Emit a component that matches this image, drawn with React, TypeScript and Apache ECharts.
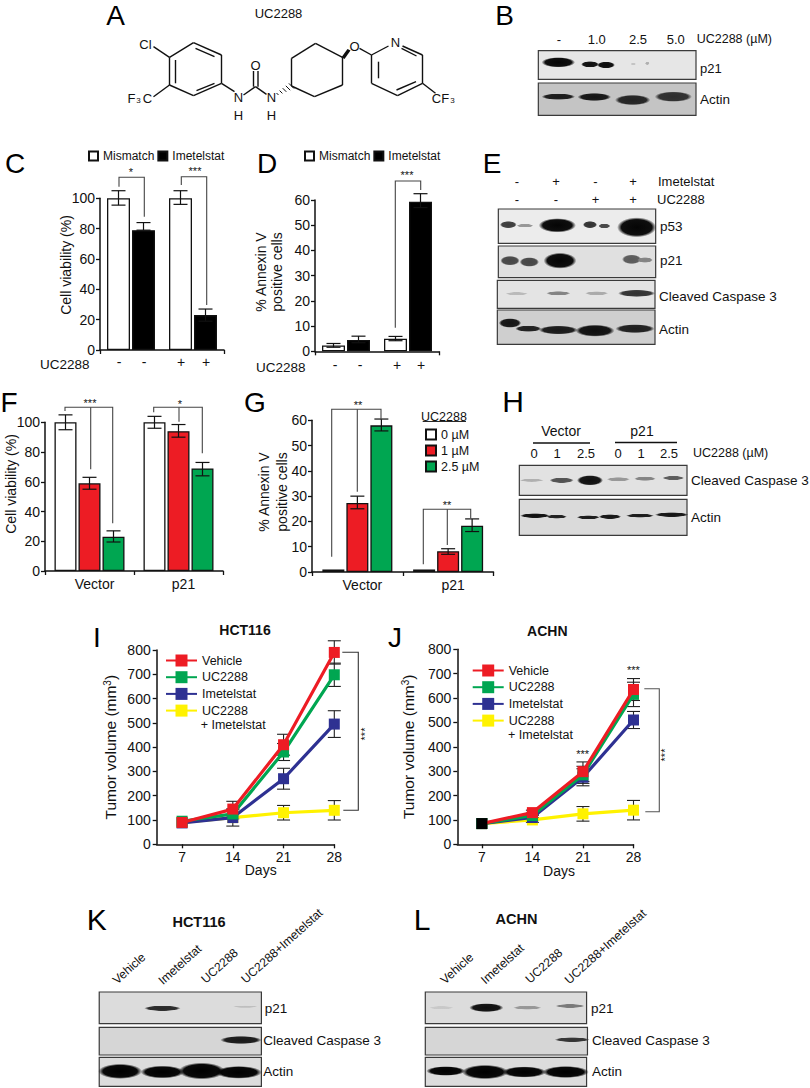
import React, { useEffect, useRef } from "react";
import * as echarts from "echarts";

// ---------- data ----------
const conditionPairs = ["UC2288 -", "UC2288 +"];
const mismatchName = "Mismatch";
const imetelstatName = "Imetelstat";

const cMismatch = [100, 100];
const cImetelstat = [79, 23];
const cMismatchLow = [95.5, 96];
const cMismatchHigh = [105, 105];
const cImetelstatLow = [79, 19];
const cImetelstatHigh = [84, 27];

const dMismatch = [2.3, 5];
const dImetelstat = [4.5, 59.3];
const dMismatchLow = [1.6, 4.2];
const dMismatchHigh = [3.1, 5.9];
const dImetelstatLow = [3.4, 57];
const dImetelstatHigh = [6, 62.5];

const groups = ["Vector", "p21"];
const doseNames = ["0 µM", "1 µM", "2.5 µM"];
const fDose0 = [100, 100];
const fDose1 = [59, 94];
const fDose25 = [23, 69];
const fDose0Low = [95, 96];
const fDose0High = [105, 104];
const fDose1Low = [55, 90];
const fDose1High = [63, 98.5];
const fDose25Low = [19.5, 64];
const fDose25High = [27, 73];

const gDose0 = [1, 1];
const gDose1 = [27.3, 8.2];
const gDose25 = [58, 18.3];
const gDose1Low = [25, 7];
const gDose1High = [30, 9.2];
const gDose25Low = [55.8, 16];
const gDose25High = [60.5, 21];

const days = [7, 14, 21, 28];
const lineNames = ["Vehicle", "UC2288", "Imetelstat ", "UC2288 "];

const iVehicle = [90, 145, 410, 790];
const iUC2288 = [95, 125, 380, 698];
const iImetelstat = [88, 110, 270, 495];
const iCombo = [90, 110, 130, 140];
const iVehicleErr = [0, 32, 43, 48];
const iUC2288Err = [0, 20, 35, 48];
const iImetelstatErr = [0, 35, 43, 55];
const iComboErr = [0, 0, 30, 40];

const jVehicle = [85, 130, 298, 635];
const jUC2288 = [85, 118, 285, 615];
const jImetelstat = [85, 110, 275, 510];
const jCombo = [85, 100, 125, 140];
const jVehicleErr = [0, 10, 40, 45];
const jUC2288Err = [0, 10, 35, 50];
const jImetelstatErr = [0, 10, 35, 35];
const jComboErr = [0, 10, 30, 40];

// ---------- styles ----------
const FONT = "Liberation Sans, Arial, sans-serif";
const RED = "#ED1C24";
const GREEN = "#00A651";
const BLUE = "#2E3192";
const YELLOW = "#FFF200";
const lineColors = [RED, GREEN, BLUE, YELLOW];

// ---------- cartesian helpers ----------
const axisLine = { show: true, onZero: false, lineStyle: { color: "#111", width: 1.5 } };
const axisTick = { show: true, length: 4, lineStyle: { color: "#111", width: 1.3 } };

function yAxis(gridIndex: number, max: number, interval: number, margin: number, extra: any = {}) {
  return {
    type: "value", gridIndex, min: 0, max, interval,
    axisLine, axisTick, splitLine: { show: false },
    axisLabel: { fontFamily: FONT, fontSize: 14, color: "#111", margin },
    ...extra,
  };
}

function catAxis(gridIndex: number, data: string[], showLabels: boolean) {
  return {
    type: "category", gridIndex, data,
    axisLine, axisTick: { ...axisTick, alignWithLabel: false },
    axisLabel: showLabels
      ? { show: true, fontFamily: FONT, fontSize: 14, color: "#111", margin: 6, padding: [0, 0, 0, 10] }
      : { show: false },
  };
}

function barGroup(
  grid: number, names: string[], values: number[][], lows: (number[] | null)[], highs: (number[] | null)[],
  fills: string[], barW: number, gap: number,
) {
  const out: any[] = [];
  values.forEach((v, s) => {
    out.push({
      type: "bar", name: names[s], xAxisIndex: grid, yAxisIndex: grid, data: v,
      barWidth: barW, barGap: `${(gap / barW) * 100}%`,
      itemStyle: { color: fills[s], borderColor: "#111", borderWidth: 1.3 },
      z: 2,
    });
  });
  values.forEach((v, s) => {
    const low = lows[s];
    const high = highs[s];
    if (!low || !high) return;
    const off = (s - (values.length - 1) / 2) * (barW + gap);
    out.push({
      type: "custom", xAxisIndex: grid, yAxisIndex: grid, z: 3, silent: true,
      encode: { x: 0, y: [1, 2] },
      data: v.map((_, i) => [i, low[i], high[i]]),
      renderItem: (_: any, api: any) => {
        const a = api.coord([api.value(0), api.value(1)]);
        const b = api.coord([api.value(0), api.value(2)]);
        const x = a[0] + off;
        const st = { stroke: "#111", lineWidth: 1.2, fill: null };
        const L = (x1: number, y1: number, x2: number, y2: number) => ({ type: "line", shape: { x1, y1, x2, y2 }, style: st });
        return {
          type: "group",
          children: [L(x, a[1], x, b[1]), L(x - 7, a[1], x + 7, a[1]), L(x - 7, b[1], x + 7, b[1])],
        };
      },
    });
  });
  return out;
}

function lineGroup(grid: number, series: number[][], errs: number[][], blackFirst: boolean) {
  const out: any[] = [];
  const order = [3, 2, 1, 0];
  errs.forEach((e, idx) => {
    out.push({
      type: "custom", xAxisIndex: grid, yAxisIndex: grid, z: 2, silent: true,
      encode: { x: 0, y: 1 },
      data: days.map((d, i) => [d, series[idx][i], e[i]]),
      renderItem: (_: any, api: any) => {
        const d = api.value(0), m = api.value(1), r = api.value(2);
        if (!r) return null;
        const a = api.coord([d, m - r]);
        const b = api.coord([d, m + r]);
        const st = { stroke: "#222", lineWidth: 1.1, fill: null };
        const L = (x1: number, y1: number, x2: number, y2: number) => ({ type: "line", shape: { x1, y1, x2, y2 }, style: st });
        return { type: "group", children: [L(a[0], a[1], b[0], b[1]), L(a[0] - 6.5, a[1], a[0] + 6.5, a[1]), L(b[0] - 6.5, b[1], b[0] + 6.5, b[1])] };
      },
    });
  });
  order.forEach((s, k) => {
    out.push({
      type: "line", name: lineNames[s], xAxisIndex: grid, yAxisIndex: grid, z: 5 + k,
      data: days.map((d, i) =>
        blackFirst && s === 0 && i === 0
          ? { value: [d, series[s][i]], itemStyle: { color: "#000" } }
          : [d, series[s][i]],
      ),
      symbol: "rect", symbolSize: 11, showSymbol: true,
      lineStyle: { color: lineColors[s], width: 3.2 },
      itemStyle: { color: lineColors[s] },
    });
  });
  return out;
}

function dayAxis(gridIndex: number, min: number) {
  return {
    type: "value", gridIndex, min, max: 28,
    axisLine, axisTick: { ...axisTick, customValues: days },
    splitLine: { show: false },
    axisLabel: { customValues: days, fontFamily: FONT, fontSize: 14, color: "#111", margin: 6 },
  };
}

function tumorName(gap: number) {
  return {
    name: "{a|Tumor volume (mm}{b|3}{a|)}",
    nameLocation: "middle",
    nameGap: gap,
    nameTextStyle: {
      rich: {
        a: { fontFamily: FONT, fontSize: 15.5, color: "#111" },
        b: { fontFamily: FONT, fontSize: 10, color: "#111", verticalAlign: "bottom", padding: [0, 0, 6, 0] },
      },
    },
  };
}

// ---------- graphic helpers ----------
const T = (text: string, x: number, y: number, size = 14, o: any = {}) => ({
  type: "text", x, y, rotation: o.rotation ?? 0, silent: true, z: 20,
  style: {
    text, x: 0, y: 0, fill: o.fill ?? "#111",
    font: `${o.weight ?? "normal"} ${size}px ${FONT}`,
    textAlign: o.align ?? "center", textVerticalAlign: "middle",
  },
});
const panelLetter = (text: string, x: number, y: number, size = 28) => T(text, x, y, size, { fill: "#000" });

const P = (pts: number[][], stroke = "#444", lineWidth = 1.1) => ({
  type: "polyline", silent: true, z: 15, shape: { points: pts }, style: { stroke, lineWidth, fill: null },
});
const B = (x1: number, y1: number, x2: number, y2: number, w = 1.4) => ({
  type: "line", silent: true, z: 15, shape: { x1, y1, x2, y2 }, style: { stroke: "#111", lineWidth: w },
});

type Band = [number, number, number, number, number];
type Panel = { x: number; y: number; w: number; h: number; bg: string; bands: Band[] };
function blot(ox: number, oy: number, sx: number, sy: number, panels: Panel[]) {
  const out: any[] = [];
  panels.forEach((p) => {
    out.push({
      type: "rect", silent: true, z: 10,
      shape: { x: ox + p.x / sx, y: oy + p.y / sy, width: p.w / sx, height: p.h / sy },
      style: { fill: p.bg, stroke: "#3a3a3a", lineWidth: 1.2 },
    });
    p.bands.forEach(([cx, cy, w, h, g]) => {
      const c = (a: number) => `rgba(${g},${g},${g},${a})`;
      out.push({
        type: "ellipse", silent: true, z: 11,
        shape: { cx: ox + cx / sx, cy: oy + cy / sy, rx: (w / sx) * 0.56, ry: (h / sy) * 0.6 },
        style: {
          fill: new echarts.graphic.RadialGradient(0.5, 0.5, 0.5, [
            { offset: 0, color: c(1) },
            { offset: 0.78, color: c(0.96) },
            { offset: 1, color: c(0) },
          ]),
        },
      });
    });
  });
  return out;
}

function chemistry() {
  const e: any[] = [];
  const ring = (pts: number[][]) => pts.forEach((a, i) => {
    const b = pts[(i + 1) % pts.length];
    e.push(B(a[0], a[1], b[0], b[1]));
  });
  ring([[197, 42.7], [225, 55], [225, 83.3], [197, 95.7], [173, 85], [173, 57.3]]);
  e.push(B(199, 48.3, 218, 56.7), B(218, 83.3, 200, 90.7), B(179, 60, 179, 83.3));
  e.push(B(173, 57.3, 157, 46.7), B(173, 85, 157, 96.7), B(225, 83.3, 238, 91.7));
  e.push(B(247, 95, 259, 86.7), B(259, 86.7, 270, 94.3));
  e.push(B(257, 86.7, 257, 71), B(261.5, 86.7, 261.5, 71));
  ring([[295, 86], [318, 96.7], [346, 85], [346, 57.3], [319, 43.3], [295, 58.3]]);
  for (let i = 0; i < 5; i++) {
    const t = i / 4;
    const x = 295 - t * 14, y = 86 + t * 8, r = 2.6 - t * 1.6;
    e.push(B(x - r, y - r, x + r, y + r, 1));
  }
  e.push({
    type: "polygon", silent: true, z: 15,
    shape: { points: [[345, 57.3], [348, 59], [354, 50.5], [351, 49]] },
    style: { fill: "#111" },
  });
  e.push(B(363, 48.3, 375, 55));
  e.push(B(375, 55, 392, 46), B(406, 46, 426, 55), B(426, 55, 426, 83.3), B(426, 83.3, 401, 95.7), B(401, 95.7, 375, 83.3), B(375, 83.3, 375, 55));
  e.push(B(405, 48.3, 420, 56), B(382, 61.7, 382, 78.3), B(400, 90, 419.5, 81.7), B(426, 83.3, 439, 93.3));
  const labels: [string, number, number][] = [
    ["Cl", 149, 44], ["N", 242, 97.7], ["H", 242, 115.7], ["O", 259, 65.7], ["N", 275, 97.7], ["H", 275, 115.7], ["O", 358, 46], ["N", 399, 42.7],
  ];
  labels.forEach(([t, x, y]) => e.push(T(t, x, y, 13)));
  e.push(
    T("F", 135, 98, 13), T("3", 142, 100, 8), T("C", 151, 98, 13),
    T("CF", 444, 98, 13), T("3", 456, 100, 8),
    T("UC2288", 282, 13, 13),
  );
  return { type: "group", x: -3.5, y: 0, children: e };
}

function buildGraphics() {
  const g: any[] = [];
  // panel letters
  g.push(
    panelLetter("A", 115.5, 15), panelLetter("B", 504.5, 15),
    panelLetter("C", 15, 163), panelLetter("D", 267, 163), panelLetter("E", 492, 163),
    panelLetter("F", 9, 402), panelLetter("G", 255, 402), panelLetter("H", 513, 401, 30),
    panelLetter("I", 97, 637), panelLetter("J", 395, 637),
    panelLetter("K", 96.7, 919, 30), panelLetter("L", 422, 919, 30),
  );
  g.push(chemistry());

  // B
  g.push(...blot(530, 0, 3, 3, [
    { x: 25, y: 152, w: 473, h: 86, bg: "#e6e6e6", bands: [[85, 187, 90, 26, 5], [180, 193, 48, 16, 15], [228, 195, 48, 17, 10], [310, 192, 15, 5, 195], [352, 190, 12, 8, 175]] },
    { x: 25, y: 249, w: 473, h: 97, bg: "#c4c4c4", bands: [[85, 290, 90, 16, 25], [193, 291, 90, 20, 20], [308, 300, 95, 26, 35], [430, 290, 100, 26, 45]] },
  ]));
  g.push(T("-", 559, 39, 13), T("1.0", 596.7, 39, 13), T("2.5", 638, 39, 13), T("5.0", 675.7, 39, 13));
  g.push(T("UC2288 (µM)", 696.7, 39, 12.5, { align: "left" }), T("p21", 700, 68, 13, { align: "left" }), T("Actin", 700, 99.3, 13.5, { align: "left" }));

  // E
  g.push(...blot(440, 140, 3, 3, [
    { x: 175, y: 207, w: 472, h: 103, bg: "#ececec", bands: [[205, 254, 45, 18, 60], [255, 257, 45, 9, 150], [352, 256, 100, 36, 5], [450, 254, 38, 18, 50], [493, 258, 32, 12, 70], [590, 262, 105, 50, 5]] },
    { x: 175, y: 318, w: 472, h: 95, bg: "#e0e0e0", bands: [[210, 362, 52, 24, 70], [268, 366, 52, 24, 70], [360, 362, 88, 40, 5], [575, 358, 52, 24, 90], [615, 360, 42, 14, 130]] },
    { x: 172, y: 421, w: 473, h: 84, bg: "#e4e4e4", bands: [[230, 461, 60, 8, 185], [355, 460, 65, 11, 130], [470, 460, 62, 10, 170], [590, 460, 100, 18, 50]] },
    { x: 172, y: 510, w: 473, h: 103, bg: "#cfcfcf", bands: [[210, 549, 60, 24, 20], [265, 566, 70, 16, 30], [355, 570, 105, 22, 25], [465, 572, 105, 30, 15], [585, 566, 105, 22, 30]] },
  ]));
  const eRow = (labels: string[], y: number) => labels.forEach((t, i) => g.push(T(t, [517, 556, 595.5, 633][i], y, 13)));
  eRow(["-", "+", "-", "+"], 181);
  eRow(["-", "-", "+", "+"], 199);
  g.push(
    T("Imetelstat", 658, 181, 13, { align: "left" }), T("UC2288", 657, 199, 13, { align: "left" }),
    T("p53", 660, 226, 13.5, { align: "left" }), T("p21", 660, 260, 13.5, { align: "left" }),
    T("Cleaved Caspase 3", 659, 296, 13.5, { align: "left" }), T("Actin", 659, 329, 13.5, { align: "left" }),
  );

  // H
  g.push(...blot(450, 370, 3, 3, [
    { x: 208, y: 286, w: 503, h: 90, bg: "#e2e2e2", bands: [[245, 331, 65, 8, 175], [335, 331, 65, 14, 80], [420, 331, 70, 26, 15], [505, 328, 62, 11, 150], [585, 326, 58, 11, 130], [670, 324, 58, 11, 90]] },
    { x: 208, y: 388, w: 503, h: 108, bg: "#dadada", bands: [[255, 437, 80, 12, 15], [320, 440, 55, 10, 30], [415, 442, 62, 10, 25], [480, 440, 60, 12, 20], [570, 437, 75, 10, 25], [665, 434, 90, 12, 20]] },
  ]));
  g.push(T("Vector", 561, 431, 14), T("p21", 642, 431, 14), B(533, 443, 590, 443, 1.4), B(615, 442.5, 677, 442.5, 1.4));
  ["0", "1", "2.5", "0", "1", "2.5"].forEach((t, i) => g.push(T(t, [534, 557, 586, 618, 641, 669][i], 453, 13)));
  g.push(T("UC2288 (µM)", 693, 453, 12.5, { align: "left" }), T("Cleaved Caspase 3", 691, 480, 13.5, { align: "left" }), T("Actin", 691, 517, 13.5, { align: "left" }));

  // K, L
  const SX = 2.294;
  const SY = 3;
  g.push(...blot(60, 875, SX, SY, [
    { x: 90, y: 351, w: 372, h: 95, bg: "#dcdcdc", bands: [[235, 400, 75, 14, 40], [425, 395, 50, 6, 190]] },
    { x: 90, y: 457, w: 372, h: 83, bg: "#d6d6d6", bands: [[415, 495, 85, 20, 25]] },
    { x: 90, y: 547, w: 372, h: 87, bg: "#dcdcdc", bands: [[138, 589, 90, 38, 0], [235, 591, 90, 32, 0], [325, 588, 95, 42, 0], [410, 592, 95, 32, 0]] },
    { x: 838, y: 351, w: 370, h: 95, bg: "#dcdcdc", bands: [[875, 398, 50, 8, 200], [978, 398, 70, 22, 15], [1072, 398, 58, 10, 150], [1170, 393, 60, 10, 120]] },
    { x: 838, y: 457, w: 372, h: 83, bg: "#d6d6d6", bands: [[1175, 494, 72, 12, 50]] },
    { x: 838, y: 547, w: 370, h: 87, bg: "#dcdcdc", bands: [[885, 588, 80, 24, 0], [975, 591, 95, 36, 0], [1065, 591, 90, 28, 0], [1160, 591, 95, 30, 0]] },
  ]));
  const angle = (42 * Math.PI) / 180;
  const rot: [string, number, number][] = [
    ["Vehicle", 125, 320], ["Imetelstat", 230, 322], ["UC2288", 328, 318], ["UC2288+Imetelstat", 420, 318],
    ["Vehicle", 877, 320], ["Imetelstat", 970, 320], ["UC2288", 1072, 318], ["UC2288+Imetelstat", 1162, 320],
  ];
  rot.forEach(([t, x, y]) => g.push(T(t, 60 + x / SX, 875 + y / SY, 12.2, { rotation: angle, align: "left" })));
  g.push(
    T("HCT116", 199, 921.7, 14.5, { weight: "bold" }), T("ACHN", 516.4, 919, 14.5, { weight: "bold" }),
    T("p21", 264.7, 1008.3, 13.5, { align: "left" }), T("Cleaved Caspase 3", 263.3, 1040.7, 13.5, { align: "left" }),
    T("Actin", 263.3, 1071, 13.5, { align: "left" }),
    T("p21", 591, 1008.3, 13.5, { align: "left" }), T("Cleaved Caspase 3", 592, 1040.7, 13.5, { align: "left" }),
    T("Actin", 592, 1071, 13.5, { align: "left" }),
  );

  // C
  g.push(T("Cell viability (%)", 66, 265, 14, { rotation: Math.PI / 2 }));
  g.push(T("UC2288", 40, 364, 13.5, { align: "left" }));
  ["-", "-", "+", "+"].forEach((t, i) => g.push(T(t, [119, 144, 181, 206][i], 362, 14)));
  g.push(P([[119, 186.7], [119, 177.3], [144.3, 177.3], [144.3, 216.7]]), T("*", 131, 172, 11));
  g.push(P([[181.3, 185], [181.3, 176.7], [206.7, 176.7], [206.7, 305]]), T("***", 195, 171, 11));

  // D
  g.push(T("% Annexin V", 261, 272, 14, { rotation: Math.PI / 2 }), T("positive cells", 277, 272, 14, { rotation: Math.PI / 2 }));
  g.push(T("UC2288", 256, 367, 13.5, { align: "left" }));
  ["-", "-", "+", "+"].forEach((t, i) => g.push(T(t, [335, 360, 397, 421][i], 365, 14)));
  g.push(P([[395.3, 327.7], [395.3, 181], [420.7, 181], [420.7, 190]]), T("***", 407, 175, 11));

  // F
  g.push(T("Cell viability (%)", 11, 484, 14, { rotation: Math.PI / 2 }));
  g.push(P([[65, 411], [65, 407.3], [112.7, 407.3], [112.7, 523.3]]), P([[90.7, 407.3], [90.7, 469.3]]), T("***", 90, 403, 11));
  g.push(P([[153.7, 412.3], [153.7, 407.3], [202.3, 407.3], [202.3, 453.3]]), P([[179, 407.3], [179, 421.7]]), T("*", 180, 404, 11));

  // G
  g.push(T("% Annexin V", 264, 492, 14, { rotation: Math.PI / 2 }), T("positive cells", 282, 492, 14, { rotation: Math.PI / 2 }));
  g.push(P([[331.7, 556.7], [331.7, 409.3], [381, 409.3], [381, 420]]), P([[357.3, 409.3], [357.3, 491.7]]), T("**", 358, 405, 11));
  g.push(P([[423.3, 564.3], [423.3, 509.3], [470.7, 509.3], [470.7, 518.3]]), P([[447.3, 509.3], [447.3, 545]]), T("**", 447, 505, 11));
  g.push(T("UC2288", 444, 416.5, 12.5), B(422.7, 421.5, 466, 421.5, 0.9));

  // I, J
  g.push(T("HCT116", 245, 630, 14, { weight: "bold" }), T("ACHN", 547.3, 630.7, 14, { weight: "bold" }));
  g.push(T("Days", 260.7, 870, 14), T("Days", 559, 870.7, 14));
  g.push(T("+ Imetelstat", 200.7, 725.3, 12.5, { align: "left" }), T("+ Imetelstat", 508, 735, 12.5, { align: "left" }));
  g.push(P([[342.3, 652.3], [358.3, 652.3], [358.3, 810.3], [343.3, 810.3]], "#333"), T("***", 365.3, 734, 11, { rotation: Math.PI / 2 }));
  g.push(P([[644.3, 688.7], [659.3, 688.7], [659.3, 811.7], [645.3, 811.7]], "#555"), T("***", 665, 755, 11, { rotation: Math.PI / 2 }));
  g.push(T("***", 582.7, 754, 11), T("***", 633.3, 670, 11));
  return g;
}

function legendOf(names: string[], left: number, top: number, o: any = {}) {
  return {
    show: true, data: names, left, top, orient: o.orient ?? "horizontal", selectedMode: false,
    padding: 0, itemGap: o.gap ?? 3, itemWidth: o.w ?? 9, itemHeight: o.h ?? 9,
    ...(o.icon === false ? {} : { icon: "rect" }),
    formatter: (n: string) => n.trim(),
    textStyle: { fontFamily: FONT, fontSize: o.size ?? 12, color: "#111" },
  };
}

function buildOption() {
  const grids = [
    { left: 100, width: 124, top: 198.3, height: 151.7 }, // C
    { left: 315, width: 124, top: 200, height: 151.3 }, // D
    { left: 45, width: 178, top: 422.3, height: 148.7 }, // F
    { left: 312, width: 181.5, top: 420.3, height: 151.7 }, // G
    { left: 156.7, width: 177.6, top: 650, height: 194.3 }, // I
    { left: 457.3, width: 176.2, top: 649.3, height: 195 }, // J
  ];
  const series = [
    ...barGroup(0, [mismatchName, imetelstatName], [cMismatch, cImetelstat], [cMismatchLow, cImetelstatLow], [cMismatchHigh, cImetelstatHigh], ["#fff", "#000"], 23, 2),
    ...barGroup(1, [mismatchName, imetelstatName], [dMismatch, dImetelstat], [dMismatchLow, dImetelstatLow], [dMismatchHigh, dImetelstatHigh], ["#fff", "#000"], 23, 2),
    ...barGroup(2, doseNames, [fDose0, fDose1, fDose25], [fDose0Low, fDose1Low, fDose25Low], [fDose0High, fDose1High, fDose25High], ["#fff", RED, GREEN], 22, 2),
    ...barGroup(3, doseNames, [gDose0, gDose1, gDose25], [null, gDose1Low, gDose25Low], [null, gDose1High, gDose25High], ["#fff", RED, GREEN], 22, 2),
    ...lineGroup(4, [iVehicle, iUC2288, iImetelstat, iCombo], [iVehicleErr, iUC2288Err, iImetelstatErr, iComboErr], false),
    ...lineGroup(5, [jVehicle, jUC2288, jImetelstat, jCombo], [jVehicleErr, jUC2288Err, jImetelstatErr, jComboErr], true),
  ];
  return {
    animation: false,
    backgroundColor: "#fff",
    grid: grids,
    xAxis: [
      catAxis(0, conditionPairs, false),
      catAxis(1, conditionPairs, false),
      catAxis(2, groups, true),
      catAxis(3, groups, true),
      dayAxis(4, 3.5),
      dayAxis(5, 3.6),
    ],
    yAxis: [
      yAxis(0, 100, 20, 5),
      yAxis(1, 60, 10, 5),
      yAxis(2, 100, 20, 5),
      yAxis(3, 60, 10, 5),
      yAxis(4, 800, 100, 6, tumorName(38)),
      yAxis(5, 800, 100, 6, tumorName(41)),
    ],
    legend: [
      legendOf([mismatchName, imetelstatName], 88, 150),
      legendOf([mismatchName, imetelstatName], 304, 150),
      legendOf(doseNames, 425, 428, { orient: "vertical", w: 10, h: 10, gap: 3, size: 12.5 }),
      legendOf(lineNames, 165, 654, { orient: "vertical", w: 31, h: 15, gap: 3.7, size: 12.5, icon: false }),
      legendOf(lineNames, 471.7, 664, { orient: "vertical", w: 31, h: 15, gap: 3.7, size: 12.5, icon: false }),
    ],
    graphic: { elements: buildGraphics() },
    series,
  };
}

export default function App() {
  const ref = useRef<HTMLDivElement>(null);
  useEffect(() => {
    document.body.style.margin = "0";
    const chart = echarts.init(ref.current!, undefined, { renderer: "svg" });
    chart.setOption(buildOption() as any);
    return () => chart.dispose();
  }, []);
  return <div ref={ref} style={{ width: 810, height: 1088 }} />;
}
